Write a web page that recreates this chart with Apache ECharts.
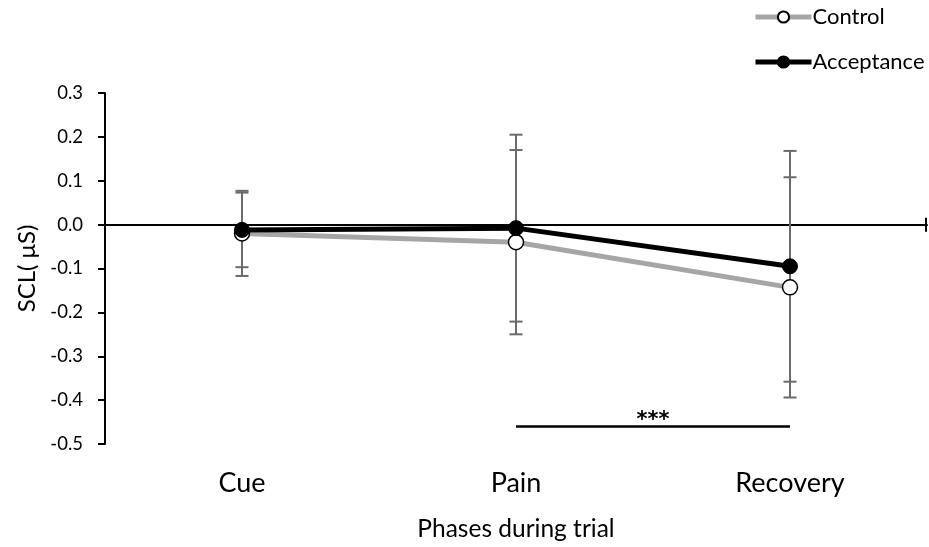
<!DOCTYPE html>
<html>
<head>
<meta charset="utf-8">
<script src="https://cdn.jsdelivr.net/npm/echarts@6/dist/echarts.min.js"></script>
<style>
html,body{margin:0;padding:0;background:#fff;}
#chart{width:929px;height:547px;}
</style>
</head>
<body>
<div id="chart"></div>
<script>
const categories = ['Cue', 'Pain', 'Recovery'];
const controlMean = [-0.020, -0.040, -0.143];
const controlErr = [0.097, 0.210, 0.251];
const acceptMean = [-0.012, -0.008, -0.095];
const acceptErr = [0.085, 0.213, 0.263];
const yMin = -0.5, yMax = 0.3, yInterval = 0.1;
const sigFrom = 'Pain', sigTo = 'Recovery', sigValue = -0.46, sigLabel = '***';
const xTitle = 'Phases during trial';
const yTitle = 'SCL( μS)';

const FONT = 'Lato';
const chart = echarts.init(document.getElementById('chart'));

function errData(mean, err) {
  return mean.map((m, i) => [i, m - err[i], m + err[i]]);
}
function errRender(params, api) {
  const x = api.value(0);
  const lo = api.coord([x, api.value(1)]);
  const hi = api.coord([x, api.value(2)]);
  const hw = 6.5;
  const style = { stroke: '#6b6b6b', lineWidth: 2 };
  return {
    type: 'group',
    children: [
      { type: 'line', shape: { x1: lo[0], y1: lo[1], x2: hi[0], y2: hi[1] }, style },
      { type: 'line', shape: { x1: lo[0] - hw, y1: lo[1], x2: lo[0] + hw, y2: lo[1] }, style },
      { type: 'line', shape: { x1: hi[0] - hw, y1: hi[1], x2: hi[0] + hw, y2: hi[1] }, style }
    ]
  };
}

const option = {
  animation: false,
  backgroundColor: '#fff',
  textStyle: { fontFamily: FONT, color: '#000' },
  grid: { left: 105, right: 2, top: 93, bottom: 94, containLabel: false },
  legend: {
    orient: 'vertical',
    left: 748, top: 1,
    itemWidth: 56, itemHeight: 14, itemGap: 23,
    textStyle: { fontFamily: FONT, fontSize: 22, color: '#000', padding: [0, 0, 0, -4] },
    data: [
      { name: 'Control', lineStyle: { width: 5, color: '#a6a6a6' } },
      { name: 'Acceptance', lineStyle: { width: 5, color: '#000' } }
    ]
  },
  xAxis: [
    {
      type: 'category', data: categories, boundaryGap: true,
      axisLine: { onZero: true, lineStyle: { color: '#000', width: 2 } },
      axisTick: { show: false }, axisLabel: { show: false }, splitLine: { show: false }
    },
    {
      type: 'category', data: categories, boundaryGap: true, position: 'bottom',
      axisLine: { show: false, onZero: false }, axisTick: { show: false },
      axisLabel: { show: true, fontFamily: FONT, fontSize: 27, color: '#000', margin: 26 },
      name: xTitle, nameLocation: 'middle', nameGap: 73,
      nameTextStyle: { fontFamily: FONT, fontSize: 24.5, color: '#000' }
    }
  ],
  yAxis: {
    type: 'value', min: yMin, max: yMax, interval: yInterval,
    axisLine: { show: true, onZero: false, lineStyle: { color: '#000', width: 2 } },
    axisTick: { show: true, length: 7, lineStyle: { color: '#000', width: 2 } },
    axisLabel: { fontFamily: FONT, fontSize: 18.5, color: '#000', margin: 22,
      formatter: v => v.toFixed(1) },
    splitLine: { show: false },
    name: yTitle, nameLocation: 'middle', nameGap: 65,
    nameTextStyle: { fontFamily: FONT, fontSize: 24, color: '#000' }
  },
  series: [
    {
      name: 'ControlErr', type: 'custom', xAxisIndex: 0, z: 1,
      renderItem: errRender, data: errData(controlMean, controlErr), silent: true
    },
    {
      name: 'AcceptErr', type: 'custom', xAxisIndex: 0, z: 1,
      renderItem: errRender, data: errData(acceptMean, acceptErr), silent: true
    },
    {
      name: 'Control', type: 'line', xAxisIndex: 0, z: 3,
      data: controlMean,
      lineStyle: { color: '#a6a6a6', width: 5 },
      itemStyle: { color: '#fff', borderColor: '#000', borderWidth: 1.5 },
      symbol: 'circle', symbolSize: 15, showAllSymbol: true
    },
    {
      name: 'Acceptance', type: 'line', xAxisIndex: 0, z: 4,
      data: acceptMean,
      lineStyle: { color: '#000', width: 5 },
      itemStyle: { color: '#000', borderColor: '#000', borderWidth: 1 },
      symbol: 'circle', symbolSize: 15, showAllSymbol: true,
      markLine: {
        silent: true, symbol: 'none',
        lineStyle: { color: '#000', width: 2.5, type: 'solid' },
        label: { show: true, position: 'middle', formatter: sigLabel,
          fontFamily: 'DejaVu Sans', fontWeight: 'bold', fontSize: 21, color: '#000', distance: -5 },
        data: [[{ xAxis: sigFrom, yAxis: sigValue }, { xAxis: sigTo, yAxis: sigValue }]]
      }
    }
  ]
};
chart.setOption(option);

// end tick of the horizontal axis (crossing style)
const pP = chart.convertToPixel({ xAxisIndex: 0 }, sigFrom);
const pR = chart.convertToPixel({ xAxisIndex: 0 }, sigTo);
const xEnd = pR + (pR - pP) / 2;
const y0 = chart.convertToPixel({ yAxisIndex: 0 }, 0);
chart.setOption({
  graphic: [{ type: 'line', shape: { x1: xEnd - 1, y1: y0 - 7, x2: xEnd - 1, y2: y0 + 7 },
    style: { stroke: '#000', lineWidth: 2 } }]
});
</script>
</body>
</html>
